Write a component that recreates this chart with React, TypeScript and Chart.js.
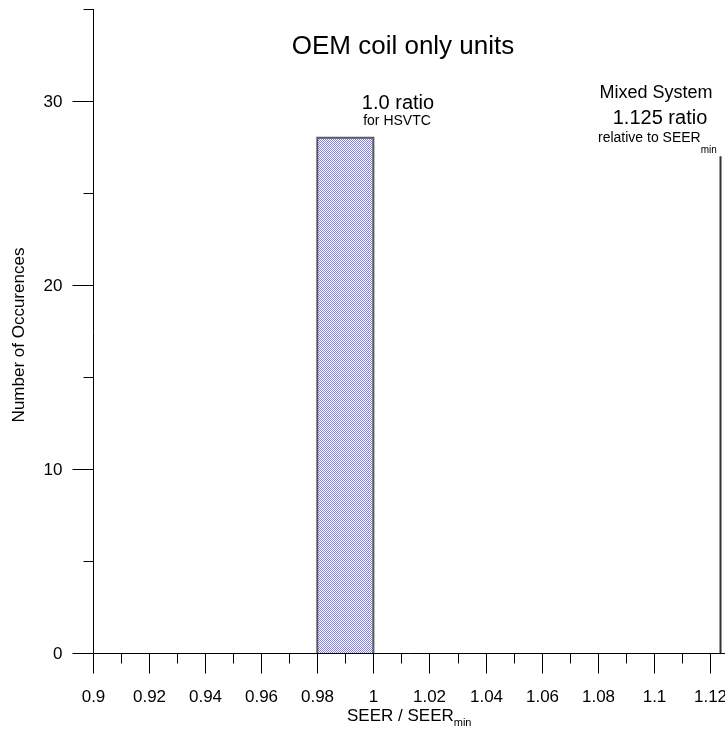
import React, { useEffect, useRef } from 'react';
import { Chart, registerables } from 'chart.js';

Chart.register(...registerables);

// ---- data ----
const binStarts = [0.98];
const binEnds = [1.0];
const binCounts = [28];
const mixedRatio = [1.1238];
const mixedCount = [27];

const xMajorTickLabels = ['0.9', '0.92', '0.94', '0.96', '0.98', '1', '1.02', '1.04', '1.06', '1.08', '1.1', '1.12'];
const xMinorTicks = [0.91, 0.93, 0.95, 0.97, 0.99, 1.01, 1.03, 1.05, 1.07, 1.09, 1.11];
const yMajorTickLabels = ['0', '10', '20', '30'];
const yMinorTicks = [5, 15, 25, 35];

const chartTitle = 'OEM coil only units';
const yTitle = 'Number of Occurences';
const xTitleMain = 'SEER / SEER';
const xTitleSub = 'min';
const annoHsvtc = ['1.0 ratio', 'for HSVTC'];
const annoMixed = ['Mixed System', '1.125 ratio', 'relative to SEER', 'min'];

const X_MIN = 0.9;
const X_MAX = 1.1254;
const Y_MIN = 0;
const Y_MAX = 35;

const FONT = '"Liberation Sans", Arial, Helvetica, sans-serif';

function makePattern(): CanvasPattern | string {
  const c = document.createElement('canvas');
  c.width = 2;
  c.height = 2;
  const g = c.getContext('2d');
  if (!g) return '#c0c0f4';
  g.fillStyle = '#ffffff';
  g.fillRect(0, 0, 2, 2);
  g.fillStyle = '#8080ec';
  g.fillRect(0, 0, 1, 1);
  g.fillRect(1, 1, 1, 1);
  const p = g.createPattern(c, 'repeat');
  return p || '#c0c0f4';
}

const axesPlugin = {
  id: 'customAxes',
  afterDraw(chart: any) {
    const { ctx, chartArea } = chart;
    const xs = chart.scales.x;
    const ys = chart.scales.y;
    const L = Math.round(chartArea.left) + 0.5;
    const B = Math.round(chartArea.bottom) + 0.5;
    ctx.save();
    ctx.strokeStyle = '#000';
    ctx.lineWidth = 1;
    const line = (x1: number, y1: number, x2: number, y2: number) => {
      ctx.beginPath();
      ctx.moveTo(x1, y1);
      ctx.lineTo(x2, y2);
      ctx.stroke();
    };
    // axis lines
    line(L, Math.round(chartArea.top), L, B);
    line(L, B, chartArea.right, B);

    // y ticks
    ctx.fillStyle = '#000';
    ctx.font = `17px ${FONT}`;
    ctx.textAlign = 'right';
    ctx.textBaseline = 'middle';
    yMajorTickLabels.forEach((lab) => {
      const py = Math.round(ys.getPixelForValue(parseFloat(lab))) + 0.5;
      line(L - 21, py, L, py);
      ctx.fillText(lab, L - 31, py + 0.5);
    });
    yMinorTicks.forEach((v) => {
      const py = Math.round(ys.getPixelForValue(v)) + 0.5;
      line(L - 10, py, L, py);
    });

    // x ticks
    ctx.textAlign = 'center';
    xMajorTickLabels.forEach((lab) => {
      const px = Math.round(xs.getPixelForValue(parseFloat(lab))) + 0.5;
      line(px, B, px, B + 20);
      ctx.fillText(lab, px, B + 44);
    });
    xMinorTicks.forEach((v) => {
      const px = Math.round(xs.getPixelForValue(v)) + 0.5;
      line(px, B, px, B + 10);
    });

    // x title with subscript
    ctx.textAlign = 'left';
    ctx.font = `17px ${FONT}`;
    const xtX = 347;
    ctx.fillText(xTitleMain, xtX, 716);
    const w1 = ctx.measureText(xTitleMain).width;
    ctx.font = `11px ${FONT}`;
    ctx.fillText(xTitleSub, xtX + w1, 723);

    // y title
    ctx.save();
    ctx.translate(19.5, 335);
    ctx.rotate(-Math.PI / 2);
    ctx.font = `17px ${FONT}`;
    ctx.textAlign = 'center';
    ctx.textBaseline = 'middle';
    ctx.fillText(yTitle, 0, 0);
    ctx.restore();

    // chart title
    ctx.textAlign = 'center';
    ctx.font = `26px ${FONT}`;
    ctx.fillText(chartTitle, 403, 47);

    // HSVTC annotation
    ctx.font = `20px ${FONT}`;
    ctx.fillText(annoHsvtc[0], 398, 103);
    ctx.font = `14px ${FONT}`;
    ctx.fillText(annoHsvtc[1], 397, 121.5);

    // Mixed annotation
    ctx.font = `18px ${FONT}`;
    ctx.fillText(annoMixed[0], 656, 93);
    ctx.font = `20px ${FONT}`;
    ctx.fillText(annoMixed[1], 660, 118);
    ctx.textAlign = 'left';
    ctx.font = `14px ${FONT}`;
    const rx = 598;
    ctx.fillText(annoMixed[2], rx, 138);
    const w2 = ctx.measureText(annoMixed[2]).width;
    ctx.font = `10px ${FONT}`;
    ctx.fillText(annoMixed[3], rx + w2, 150);

    ctx.restore();
  },
};

export default function App() {
  const ref = useRef<HTMLCanvasElement>(null);

  useEffect(() => {
    const canvas = ref.current;
    if (!canvas) return;

    const histPoints: { x: number; y: number }[] = [];
    binStarts.forEach((s, i) => {
      histPoints.push({ x: s, y: 0 });
      histPoints.push({ x: s, y: binCounts[i] });
      histPoints.push({ x: binEnds[i], y: binCounts[i] });
      histPoints.push({ x: binEnds[i], y: 0 });
    });
    const mixedPoints = [
      { x: mixedRatio[0], y: 0 },
      { x: mixedRatio[0], y: mixedCount[0] },
    ];

    const chart = new Chart(canvas, {
      type: 'line',
      data: {
        datasets: [
          {
            data: histPoints,
            borderColor: '#5a5a5a',
            borderWidth: 2,
            backgroundColor: makePattern() as any,
            fill: 'origin',
            pointRadius: 0,
            tension: 0,
          },
          {
            data: mixedPoints,
            borderColor: '#333333',
            borderWidth: 2,
            fill: false,
            pointRadius: 0,
            tension: 0,
          },
        ],
      },
      options: {
        responsive: false,
        devicePixelRatio: 1,
        animation: false,
        events: [],
        layout: { padding: { top: 9, left: 0, right: 0, bottom: 0 } },
        plugins: {
          legend: { display: false },
          tooltip: { enabled: false },
          title: { display: false },
        },
        scales: {
          x: {
            type: 'linear',
            min: X_MIN,
            max: X_MAX,
            ticks: { display: false },
            grid: { display: false },
            border: { display: false },
            afterFit: (s: any) => {
              s.height = 76;
            },
          },
          y: {
            type: 'linear',
            min: Y_MIN,
            max: Y_MAX,
            ticks: { display: false },
            grid: { display: false },
            border: { display: false },
            afterFit: (s: any) => {
              s.width = 93;
            },
          },
        },
      },
      plugins: [axesPlugin],
    });

    return () => chart.destroy();
  }, []);

  return (
    <div style={{ position: 'fixed', left: 0, top: 0, width: 725, height: 729, background: '#fff' }}>
      <canvas ref={ref} width={725} height={729} style={{ display: 'block' }} />
    </div>
  );
}
